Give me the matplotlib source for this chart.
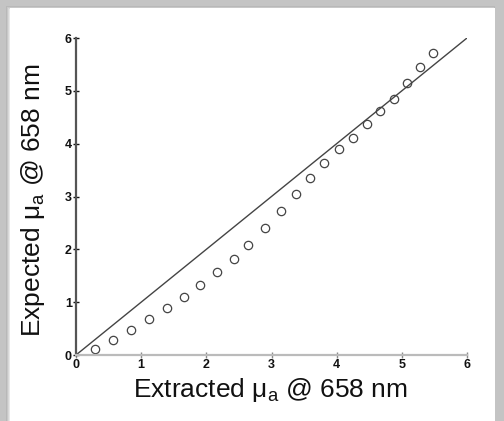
import numpy as np
import matplotlib
matplotlib.use("Agg")
import matplotlib.pyplot as plt
from matplotlib.patches import Rectangle

# measured points (extracted vs expected mua at 658 nm)
extracted = [0.29, 0.57, 0.84, 1.12, 1.40, 1.66, 1.91, 2.16, 2.42, 2.64, 2.90, 3.14,
             3.37, 3.59, 3.81, 4.03, 4.25, 4.46, 4.67, 4.88, 5.08, 5.28, 5.48]
expected = [0.11, 0.28, 0.47, 0.68, 0.89, 1.10, 1.33, 1.57, 1.81, 2.08, 2.41, 2.72,
            3.05, 3.35, 3.64, 3.90, 4.11, 4.37, 4.61, 4.85, 5.14, 5.45, 5.71]
identity = [0, 6]
ticks = [0, 1, 2, 3, 4, 5, 6]

plt.rcParams["font.family"] = ["Liberation Sans", "DejaVu Sans"]
plt.rcParams["mathtext.fontset"] = "custom"
plt.rcParams["mathtext.rm"] = "Liberation Sans"
plt.rcParams["mathtext.it"] = "Liberation Sans"

fig = plt.figure(figsize=(5.04, 4.21), dpi=100, facecolor="#c4c4c4")

# white panel with a soft shadow frame
for i, c in enumerate(["#b8b8b8", "#c8c8c8", "#d8d8d8", "#e8e8e8"]):
    fig.patches.append(Rectangle(((6 + i) / 504, 0), (493 - 6 - 2 * i + 2) / 504, (415 - i) / 421,
                                 transform=fig.transFigure, facecolor=c, edgecolor="none", zorder=-2))
fig.patches.append(Rectangle((10 / 504, 0), 485 / 504, 413 / 421,
                             transform=fig.transFigure, facecolor="white", edgecolor="none", zorder=-1))

ax = fig.add_axes([76 / 504, 66 / 421, 391 / 504, 317 / 421])
ax.patch.set_alpha(0)

ax.plot(identity, identity, color="#444444", lw=1.0)
ax.plot(extracted, expected, "o", mfc="none", mec="#444444", mew=0.9, ms=6)

ax.set_xlim(0, 6)
ax.set_ylim(0, 6)
ax.set_xticks(ticks)
ax.set_yticks(ticks)
ax.tick_params(direction="inout", length=4, width=1, labelsize=9, pad=1, colors="#111111")
ax.tick_params(axis="x", color="#888888")
for lab in ax.get_xticklabels() + ax.get_yticklabels():
    lab.set_fontweight("bold")

for s in ["top", "right"]:
    ax.spines[s].set_visible(False)
ax.spines["left"].set_color("#555555")
ax.spines["left"].set_linewidth(1.6)
ax.spines["bottom"].set_color("#bbbbbb")
ax.spines["bottom"].set_linewidth(1.6)

fig.text(270 / 504, 1 - 390 / 421, r"Extracted $\mathrm{\mu_a}$ @ 658 nm", fontsize=19,
         ha="center", va="center", color="#111111")
fig.text(33 / 504, 1 - 200 / 421, r"Expected $\mathrm{\mu_a}$ @ 658 nm", fontsize=19,
         ha="center", va="center", rotation=90, color="#111111")

fig.savefig("out.png", dpi=100, facecolor=fig.get_facecolor())
